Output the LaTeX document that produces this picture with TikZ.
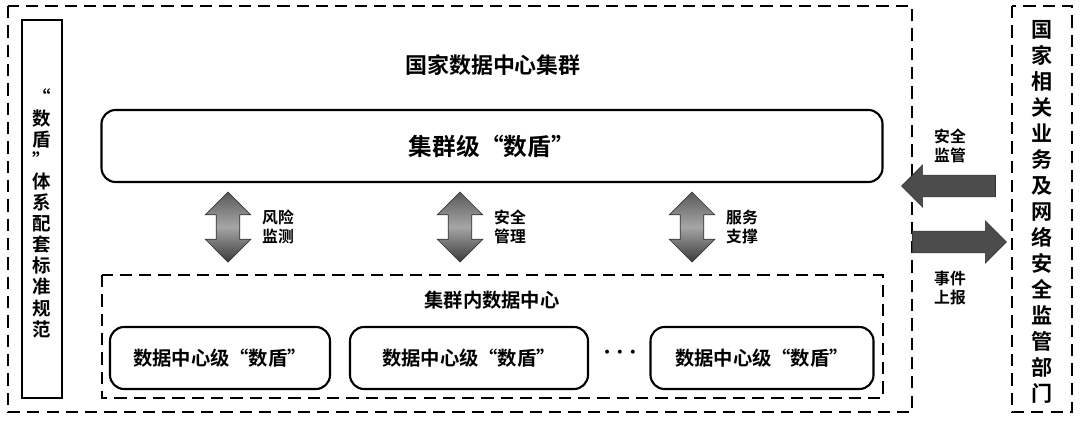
\documentclass[tikz,border=0pt]{standalone}
\usepackage{fontspec}
\setmainfont{Noto Sans CJK SC Bold}
\usetikzlibrary{shapes.arrows,positioning}
\tikzset{
  dashbox/.style={draw,dashed,line width=1.4pt,dash pattern=on 7pt off 4pt},
  roundbox/.style={draw,line width=1.2pt,rounded corners=8pt,fill=white},
  fatarrow/.style={double arrow,draw=gray!40!black,left color=gray!70!black,right color=gray!45!black,
    middle color=gray!70,shading angle=0,minimum width=26pt,double arrow head extend=3pt,inner sep=3pt},
  sidearrow/.style={single arrow,draw=gray!40!black,fill=gray!60!black,minimum width=24pt,
    single arrow head extend=3pt,inner sep=3pt},
  lbl/.style={font=\fontsize{9}{10.5}\selectfont,align=center},
  vtext/.style={align=center,font=\fontsize{10.5}{12}\selectfont}
}
\begin{document}
\begin{tikzpicture}[x=0.02cm,y=-0.02cm]
\useasboundingbox (0,0) rectangle (1080,420);
% outer frames
\draw[dashbox] (8,6) rectangle (912,412);
\draw[dashbox] (1012,6) rectangle (1072,412);
\node[draw,line width=1.3pt,minimum width=40*0.02cm,minimum height=378*0.02cm] (std) at (42,209) {};
\node[vtext] (stdtxt) at (42,213) {“\\数\\盾\\”\\体\\系\\配\\套\\标\\准\\规\\范};
\node[vtext,font=\fontsize{12}{14.8}\selectfont] (dept) at (1042,212) {国\\家\\相\\关\\业\\务\\及\\网\\络\\安\\全\\监\\管\\部\\门};
% cluster
\node[font=\fontsize{12.5}{14}\selectfont] (title) at (493,65) {国家数据中心集群};
\node[roundbox,minimum width=781*0.02cm,minimum height=72*0.02cm,font=\fontsize{13.5}{15}\selectfont] (cluster) at (492,146) {集群级“数盾”};
\draw[dashbox] (102,275) rectangle (883,398);
\node[font=\fontsize{11}{13}\selectfont] (inner) at (492,300) {集群内数据中心};
\node[roundbox,minimum width=220*0.02cm,minimum height=62*0.02cm,font=\fontsize{11}{13}\selectfont] (dc1) at (220,358) {数据中心级“数盾”};
\node[roundbox,minimum width=238*0.02cm,minimum height=62*0.02cm,font=\fontsize{11}{13}\selectfont] (dc2) at (469,358) {数据中心级“数盾”};
\node[roundbox,minimum width=223*0.02cm,minimum height=62*0.02cm,font=\fontsize{11}{13}\selectfont] (dc3) at (762,358) {数据中心级“数盾”};
\node[font=\fontsize{14}{14}\selectfont\boldmath] (dots) at (620,353) {$\cdots$};
% vertical arrows
\foreach \x/\t [count=\i] in {228/风险\\监测,460/安全\\管理,692/服务\\支撑}{
  \node[fatarrow,rotate=90,minimum height=70*0.02cm] (v\i) at (\x,227) {};
  \node[lbl,anchor=west] (l\i) at (\x+28,227) {\t};
}
% side arrows
\node[sidearrow,shape border rotate=180,minimum height=94*0.02cm] (sup) at (954,186) {};
\node[sidearrow,minimum height=94*0.02cm] (rep) at (954,242) {};
\node[lbl] (suptxt) at (950,146) {安全\\监管};
\node[lbl] (reptxt) at (950,288) {事件\\上报};
\end{tikzpicture}
\end{document}
